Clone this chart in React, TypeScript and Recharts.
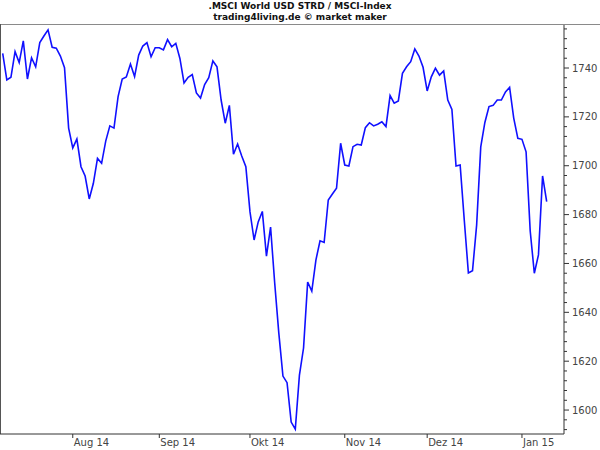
import React from "react";
import { LineChart, Line, XAxis, YAxis } from "recharts";

const titleLine1 = ".MSCI World USD STRD / MSCI-Index";
const titleLine2 = "trading4living.de © market maker";

// daily closing values (trading days, Jul 9 2014 .. Jan 9 2015)
const values: number[] = [
  1746.0, 1735.1, 1736.2, 1746.7, 1742.2, 1751.1, 1735.5, 1744.2, 1740.5, 1750.4,
  1753.1, 1755.6, 1748.5, 1748.1, 1744.9, 1740.1, 1715.4, 1707.3, 1710.9, 1699.6,
  1695.8, 1686.4, 1692.8, 1703.0, 1701.0, 1710.1, 1716.3, 1715.4, 1728.3, 1735.5,
  1736.3, 1741.6, 1736.5, 1745.3, 1749.0, 1750.4, 1744.6, 1748.3, 1748.3, 1747.4,
  1751.6, 1748.7, 1750.1, 1743.9, 1733.9, 1736.2, 1737.3, 1729.8, 1727.7, 1733.2,
  1736.0, 1742.9, 1740.5, 1726.9, 1717.4, 1724.7, 1704.7, 1708.9, 1704.0, 1699.6,
  1681.2, 1669.6, 1677.0, 1681.3, 1663.0, 1674.9, 1652.0, 1631.5, 1613.9, 1611.2,
  1595.1, 1592.2, 1614.3, 1625.4, 1652.4, 1648.7, 1661.4, 1669.3, 1668.6, 1686.0,
  1688.4, 1690.8, 1709.2, 1700.3, 1699.9, 1707.8, 1708.8, 1708.5, 1715.6, 1717.6,
  1716.3, 1717.0, 1718.0, 1716.0, 1728.7, 1725.6, 1726.5, 1737.8, 1740.5, 1742.6,
  1747.8, 1744.9, 1740.3, 1730.6, 1736.4, 1739.9, 1737.1, 1738.8, 1726.9, 1723.0,
  1699.9, 1700.3, 1677.8, 1656.1, 1657.0, 1675.7, 1707.7, 1717.7, 1724.2, 1724.7,
  1726.9, 1726.9, 1730.2, 1732.1, 1719.5, 1711.2, 1710.8, 1705.7, 1673.3, 1656.0,
  1663.5, 1695.8, 1685.3,
];

// index of the first trading day of each month
const monthTickIndex: number[] = [17, 38, 60, 83, 103, 126];
const monthLabels: string[] = ["Aug 14", "Sep 14", "Okt 14", "Nov 14", "Dez 14", "Jan 15"];

const yMajorTicks: number[] = [1600, 1620, 1640, 1660, 1680, 1700, 1720, 1740];
const yMinorStep = 4;
const yMinorFrom = 1592;
const yMinorTo = 1756;

const data = values.map((v, i) => ({ i, v }));
const yTicks: number[] = [];
for (let t = yMinorFrom; t <= yMinorTo; t += yMinorStep) yTicks.push(t);

const FONT = "'DejaVu Sans', Verdana, sans-serif";
const AXIS = "#333";

const XTick = (props: any) => {
  const { x, y, payload } = props;
  const idx = monthTickIndex.indexOf(payload.value);
  return (
    <g>
      <line x1={x} y1={y} x2={x} y2={y + 4} stroke={AXIS} strokeWidth={1} />
      <text x={x + 1} y={y + 12} textAnchor="start" fontSize={10} fontFamily={FONT} fill="#444">
        {idx >= 0 ? monthLabels[idx] : ""}
      </text>
    </g>
  );
};

const YTick = (props: any) => {
  const { x, y, payload } = props;
  const major = yMajorTicks.includes(payload.value);
  return (
    <g>
      <line x1={x} y1={y} x2={x + (major ? 5 : 3)} y2={y} stroke={AXIS} strokeWidth={1} />
      {major && (
        <text x={x + 8} y={y + 3.5} textAnchor="start" fontSize={10} fontFamily={FONT} fill="#444">
          {payload.value}
        </text>
      )}
    </g>
  );
};

export default function App() {
  return (
    <div style={{ position: "absolute", left: 0, top: 0, width: 600, height: 450, background: "#fff" }}>
      <div
        style={{
          position: "absolute",
          left: 0,
          top: 1,
          width: 600,
          textAlign: "center",
          fontFamily: FONT,
          fontWeight: "bold",
          fontSize: 9,
          lineHeight: "11px",
          color: "#111",
        }}
      >
        <div>{titleLine1}</div>
        <div>{titleLine2}</div>
      </div>
      <div style={{ position: "absolute", left: 0, top: 24, width: 600, height: 1, background: "#8a8a8a" }} />
      <div style={{ position: "absolute", left: 0, top: 24, width: 1, height: 410, background: "#555" }} />
      <div style={{ position: "absolute", left: 0, top: 0 }}>
        <LineChart width={600} height={450} data={data} margin={{ top: 25, right: 0, bottom: 0, left: 0 }}>
          <XAxis
            dataKey="i"
            type="number"
            domain={[-0.655, 136.2]}
            allowDataOverflow
            ticks={monthTickIndex}
            interval={0}
            height={16}
            tickSize={0}
            tickMargin={0}
            tick={<XTick />}
            axisLine={{ stroke: AXIS }}
            tickLine={false}
          />
          <YAxis
            orientation="right"
            type="number"
            domain={[1590.2, 1757.6]}
            allowDataOverflow
            ticks={yTicks}
            interval={0}
            width={36}
            tickSize={0}
            tickMargin={0}
            tick={<YTick />}
            axisLine={{ stroke: AXIS }}
            tickLine={false}
          />
          <Line
            type="linear"
            dataKey="v"
            stroke="#1010ff"
            strokeWidth={1.6}
            dot={false}
            isAnimationActive={false}
          />
        </LineChart>
      </div>
    </div>
  );
}
